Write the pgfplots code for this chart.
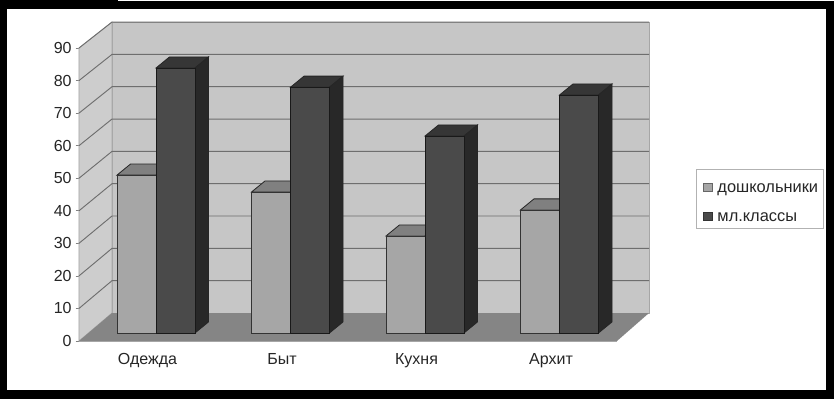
\documentclass[border=0pt]{standalone}
\usepackage{fontspec}
\setmainfont{Liberation Sans}
\usepackage{pgfplots}
\usepackage{pgfplotstable}
\pgfplotsset{compat=1.18}
\definecolor{wall}{HTML}{C6C6C6}
\definecolor{swall}{HTML}{CDCDCD}
\definecolor{floorc}{HTML}{858585}
\definecolor{aF}{HTML}{A6A6A6}
\definecolor{aT}{HTML}{808080}
\definecolor{aS}{HTML}{6A6A6A}
\definecolor{bF}{HTML}{4A4A4A}
\definecolor{bT}{HTML}{363636}
\definecolor{bS}{HTML}{282828}
\definecolor{gridc}{HTML}{6E6E6E}
\pgfplotstableread{
x v
136.5 48.5
271 43.3
405.5 29.8
540 37.8
}\seriesA
\pgfplotstableread{
x v
175.5 81.4
310 75.5
444.5 60.5
579 73.1
}\seriesB
\newcommand\BarSolid[4]{%
  \pgfmathsetmacro\xa{#1-19.5}\pgfmathsetmacro\xb{#1+19.5}%
  \pgfmathsetmacro\xc{#1+33}\pgfmathsetmacro\xd{#1-6}%
  \pgfmathsetmacro\vt{#2+3.4}%
  \addplot[forget plot,fill=#3,draw=black!85,line width=.6pt] coordinates {(\xa,#2) (\xb,#2) (\xc,\vt) (\xd,\vt)} --cycle;
  \addplot[forget plot,fill=#4,draw=black!85,line width=.6pt] coordinates {(\xb,0) (\xc,3.4) (\xc,\vt) (\xb,#2)} --cycle;
}
\begin{document}
\begin{tikzpicture}[x=1pt,y=1pt]
\fill[black] (-59.25pt,-43.5pt) rectangle +(625.5pt,299.25pt);
\fill[white] (-54pt,-36.75pt) rectangle +(614.25pt,285.75pt);
\fill[white] (29.25pt,255pt) rectangle (566.25pt,255.75pt);
\begin{axis}[
  scale only axis,width=403.5pt,height=219.75pt,
  xmin=79,xmax=617,ymin=0,ymax=90,clip=false,
  axis x line*=bottom,axis y line*=left,
  axis line style={draw=gray!70,line width=.5pt},
  ytick={0,10,...,90},
  xtick={147.5,282,416.5,551},
  xticklabels={Одежда,Быт,Кухня,Архит},
  extra x ticks={79,213.5,348,482.5,617},
  extra x tick labels={},
  extra x tick style={major tick length=2.5pt,tick style={draw=gray,line width=.5pt}},
  x tick style={draw=none},
  y tick style={draw=gray,line width=.5pt},
  major tick length=2.5pt,
  tick align=outside,
  /pgf/number format/assume math mode=true,
  tick label style={font=\fontsize{12pt}{13pt}\selectfont,text=black!85},
  xticklabel style={yshift=-3.5pt},
  yticklabel style={xshift=.5pt},
]
\addplot[forget plot,fill=wall,draw=gray!70,line width=.5pt] coordinates {(112,8.6) (649,8.6) (649,98) (112,98)} --cycle;
\addplot[forget plot,fill=swall,draw=gray!70,line width=.5pt] coordinates {(79,0) (79,90) (112,98) (112,8.6)} --cycle;
\addplot[forget plot,fill=floorc,draw=none] coordinates {(79,0) (617,0) (649,8.6) (112,8.6)} --cycle;
\pgfplotsinvokeforeach{10,20,...,90}{
  \pgfmathsetmacro\gy{8.6+0.993*#1}
  \addplot[forget plot,draw=gridc,line width=.7pt] coordinates {(79,#1) (112,\gy) (649,\gy)};
}
\end{axis}
\begin{axis}[
  scale only axis,width=403.5pt,height=219.75pt,
  at={(0pt,6pt)},anchor=south west,
  xmin=79,xmax=617,ymin=0,ymax=90,clip=false,
  hide axis,
  legend cell align=left,
  legend style={at={(axis cs:696,50.5)},anchor=north west,draw=gray!60,line width=.5pt,
    font=\fontsize{12.3pt}{13pt}\selectfont,text=black!85,
    row sep=7.25pt,inner xsep=2pt,inner ysep=4pt},
]
\BarSolid{136.5}{48.5}{aT}{aS}
\BarSolid{175.5}{81.4}{bT}{bS}
\BarSolid{271}{43.3}{aT}{aS}
\BarSolid{310}{75.5}{bT}{bS}
\BarSolid{405.5}{29.8}{aT}{aS}
\BarSolid{444.5}{60.5}{bT}{bS}
\BarSolid{540}{37.8}{aT}{aS}
\BarSolid{579}{73.1}{bT}{bS}
\addplot[ybar,bar width=29.25pt,bar shift=0pt,fill=aF,draw=black!80,line width=.6pt,
  legend image code/.code={\path (0pt,0pt) (11.25pt,0pt);\draw[fill=aF,draw=black!60,line width=.5pt] (3pt,-5.7pt) rectangle (10pt,.7pt);}]
  table[x=x,y=v] {\seriesA};
\addlegendentry{\raisebox{-2.5pt}[9pt][2.5pt]{дошкольники}}
\addplot[ybar,bar width=29.25pt,bar shift=0pt,fill=bF,draw=black!90,line width=.6pt,
  legend image code/.code={\path (0pt,0pt) (11.25pt,0pt);\draw[fill=bF,draw=black!80,line width=.5pt] (3pt,-5.7pt) rectangle (10pt,.7pt);}]
  table[x=x,y=v] {\seriesB};
\addlegendentry{\raisebox{-2.5pt}[9pt][2.5pt]{мл.классы}}
\end{axis}
\end{tikzpicture}
\end{document}
